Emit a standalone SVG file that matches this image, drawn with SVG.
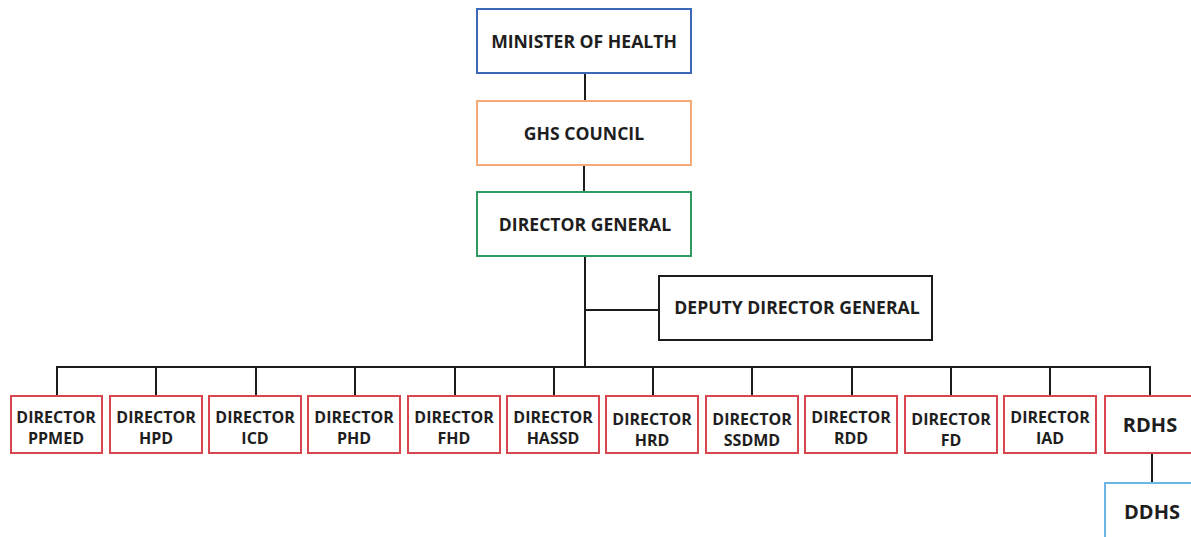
<svg xmlns="http://www.w3.org/2000/svg" width="1191" height="537" viewBox="0 0 1191 537">
<style>
.box{fill:#fff;stroke-width:2}
.blue{stroke:#3d68b8}
.orange{stroke:#f2ab78}
.green{stroke:#2f9a5e}
.red{stroke:#d9464d}
.lblue{stroke:#6cb6e6}
.black{stroke:#1c1c1c}
text{font-family:"Open Sans","Liberation Sans",sans-serif;font-weight:700;fill:#1e1e1e;text-anchor:middle}
.t{font-size:17.6px}
.d{font-size:16px}
.b{font-size:20px}
.conn line{stroke:#1c1c1c;stroke-width:2}
</style>
<rect width="1191" height="537" fill="#fff"/>
<g class="conn">
<line x1="585" y1="73" x2="585" y2="101"/>
<line x1="584" y1="165" x2="584" y2="192"/>
<line x1="585" y1="256" x2="585" y2="367"/>
<line x1="585" y1="310" x2="659" y2="310"/>
<line x1="56" y1="367" x2="1151" y2="367"/>
<line x1="57" y1="367" x2="57" y2="396"/>
<line x1="156" y1="367" x2="156" y2="396"/>
<line x1="256" y1="367" x2="256" y2="396"/>
<line x1="355" y1="367" x2="355" y2="396"/>
<line x1="455" y1="367" x2="455" y2="396"/>
<line x1="554" y1="367" x2="554" y2="396"/>
<line x1="653" y1="367" x2="653" y2="396"/>
<line x1="752" y1="367" x2="752" y2="396"/>
<line x1="852" y1="367" x2="852" y2="396"/>
<line x1="951" y1="367" x2="951" y2="396"/>
<line x1="1050" y1="367" x2="1050" y2="396"/>
<line x1="1150" y1="367" x2="1150" y2="396"/>
<line x1="1152" y1="453" x2="1152" y2="483"/>
</g>
<g id="minister"><rect class="box blue" x="477" y="9" width="214" height="64"/><text class="t" x="584" y="48">MINISTER OF HEALTH</text></g>
<g id="ghs-council"><rect class="box orange" x="477" y="101" width="214" height="64"/><text class="t" x="584" y="140">GHS COUNCIL</text></g>
<g id="director-general"><rect class="box green" x="477" y="192" width="214" height="64"/><text class="t" x="585" y="231">DIRECTOR GENERAL</text></g>
<g id="deputy-director-general"><rect class="box black" x="659" y="276" width="273" height="64"/><text class="t" x="797" y="314">DEPUTY DIRECTOR GENERAL</text></g>
<g id="ppmed"><rect class="box red" x="11" y="396" width="91" height="57"/><text class="d" x="56" y="423">DIRECTOR</text><text class="d" x="56" y="444">PPMED</text></g>
<g id="hpd"><rect class="box red" x="110" y="396" width="92" height="57"/><text class="d" x="156" y="423">DIRECTOR</text><text class="d" x="156" y="444">HPD</text></g>
<g id="icd"><rect class="box red" x="209" y="396" width="92" height="57"/><text class="d" x="255" y="423">DIRECTOR</text><text class="d" x="255" y="444">ICD</text></g>
<g id="phd"><rect class="box red" x="308" y="396" width="92" height="57"/><text class="d" x="354" y="423">DIRECTOR</text><text class="d" x="354" y="444">PHD</text></g>
<g id="fhd"><rect class="box red" x="408" y="396" width="92" height="57"/><text class="d" x="454" y="423">DIRECTOR</text><text class="d" x="454" y="444">FHD</text></g>
<g id="hassd"><rect class="box red" x="507" y="396" width="92" height="57"/><text class="d" x="553" y="423">DIRECTOR</text><text class="d" x="553" y="444">HASSD</text></g>
<g id="hrd"><rect class="box red" x="606" y="396" width="92" height="57"/><text class="d" x="652" y="425">DIRECTOR</text><text class="d" x="652" y="446">HRD</text></g>
<g id="ssdmd"><rect class="box red" x="706" y="396" width="92" height="57"/><text class="d" x="752" y="425">DIRECTOR</text><text class="d" x="752" y="446">SSDMD</text></g>
<g id="rdd"><rect class="box red" x="805" y="396" width="92" height="57"/><text class="d" x="851" y="423">DIRECTOR</text><text class="d" x="851" y="444">RDD</text></g>
<g id="fd"><rect class="box red" x="905" y="396" width="92" height="57"/><text class="d" x="951" y="425">DIRECTOR</text><text class="d" x="951" y="446">FD</text></g>
<g id="iad"><rect class="box red" x="1004" y="396" width="92" height="57"/><text class="d" x="1050" y="423">DIRECTOR</text><text class="d" x="1050" y="444">IAD</text></g>
<g id="rdhs"><rect class="box red" x="1105" y="396" width="95" height="57"/><text class="b" x="1150" y="432">RDHS</text></g>
<g id="ddhs"><rect class="box lblue" x="1105" y="483" width="95" height="70"/><text class="b" x="1152" y="519">DDHS</text></g>
</svg>
